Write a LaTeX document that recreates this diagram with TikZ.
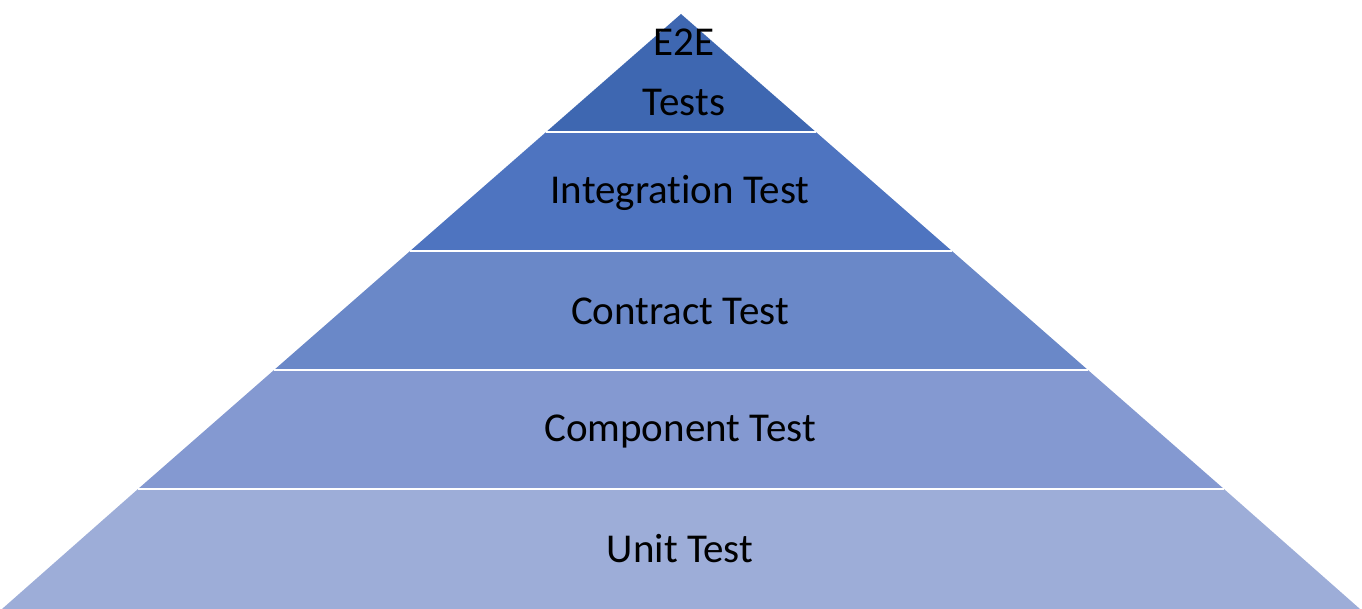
\documentclass[tikz,border=0pt]{standalone}
\usepackage{fontspec}
\setmainfont[Ligatures=NoCommon]{Carlito}
\definecolor{cA}{HTML}{3E67B1}
\definecolor{cB}{HTML}{4E74C0}
\definecolor{cC}{HTML}{6A88C8}
\definecolor{cD}{HTML}{8499D1}
\definecolor{cE}{HTML}{9DADD8}
\tikzset{lbl/.style={font=\fontsize{41}{60}\selectfont,text=black,align=center}}
\begin{document}
\begin{tikzpicture}[x=1pt,y=-1pt]
\useasboundingbox (0,0) rectangle (1362,609);
% apex (681,14), base y=608 from x=2 to 1360
\def\lx#1{681-1.14310*(#1-14)}
\def\rx#1{681+1.14310*(#1-14)}
\fill[cE] ({\lx{489}},489) -- (2,609) -- (1360,609) -- ({\rx{489}},489) -- cycle;
\fill[cD] ({\lx{370}},370) -- ({\lx{489}},489) -- ({\rx{489}},489) -- ({\rx{370}},370) -- cycle;
\fill[cC] ({\lx{251}},251) -- ({\lx{370}},370) -- ({\rx{370}},370) -- ({\rx{251}},251) -- cycle;
\fill[cB] ({\lx{132}},132) -- ({\lx{251}},251) -- ({\rx{251}},251) -- ({\rx{132}},132) -- cycle;
\fill[cA] (681,14) -- ({\lx{132}},132) -- ({\rx{132}},132) -- cycle;
\foreach \y in {132,251,370,489} \draw[white,line width=1.5pt] ({\lx{\y}},\y) -- ({\rx{\y}},\y);
\node[lbl] (e2e) at (684,72) {E2E\\Tests};
\node[lbl] (int) at (680,193) {Integration Test};
\node[lbl] (con) at (680,311) {Contract Test};
\node[lbl] (com) at (680,431) {Component Test};
\node[lbl] (unit) at (680,549) {Unit Test};
\end{tikzpicture}
\end{document}
